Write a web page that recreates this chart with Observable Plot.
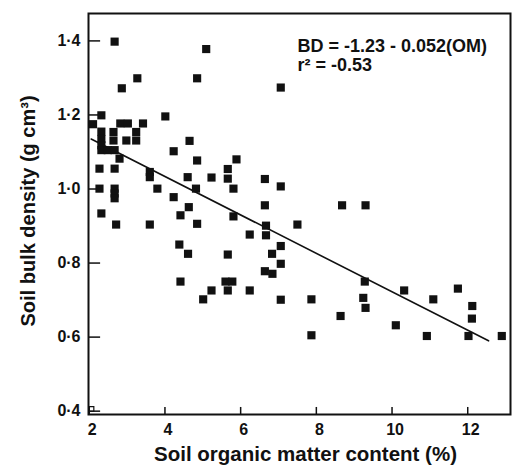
<!DOCTYPE html>
<html>
<head>
<meta charset="utf-8">
<script src="https://cdn.jsdelivr.net/npm/d3@7"></script>
<script src="https://cdn.jsdelivr.net/npm/@observablehq/plot@0.6"></script>
<style>
  html, body { margin: 0; padding: 0; background: #fff; }
  svg { display: block; }
</style>
</head>
<body>
<div id="chart"></div>
<script>
// Soil organic matter content (%)
const om = [
  2.67, 3.27, 2.86, 2.32, 2.10, 2.82, 3.02, 3.42, 2.64, 3.24,
  2.64, 2.98, 3.24, 2.32, 2.32, 2.32, 2.32, 2.49, 2.67, 2.80,
  3.60, 3.60, 2.27, 2.67, 2.27, 2.67, 2.67, 2.67, 2.32, 2.71,
  3.60, 3.80,
  5.09, 4.85, 7.06, 4.01, 4.65, 4.23, 5.89, 4.85, 4.60, 5.23,
  5.66, 5.66, 6.64, 7.06, 4.82, 5.81, 4.23, 6.64, 8.68, 9.30,
  4.63, 4.41, 5.81, 4.85, 6.67, 7.50, 6.24, 6.67, 4.38, 7.06,
  4.61, 5.66, 6.83, 7.06, 6.64, 6.84, 4.41, 5.60, 5.78, 9.28,
  5.23, 5.66, 6.24, 10.32, 11.74, 5.01, 7.06, 7.87, 9.24, 11.09,
  12.12, 9.30, 8.64, 12.11, 10.10, 7.87, 10.92, 12.02, 12.90
];
// Soil bulk density (g cm-3)
const bd = [
  1.398, 1.299, 1.272, 1.199, 1.175, 1.177, 1.177, 1.177, 1.154, 1.154,
  1.131, 1.131, 1.131, 1.155, 1.135, 1.118, 1.105, 1.105, 1.105, 1.082,
  1.046, 1.032, 1.055, 1.055, 1.001, 1.001, 0.988, 0.975, 0.934, 0.904,
  0.904, 1.001,
  1.378, 1.299, 1.274, 1.196, 1.130, 1.102, 1.080, 1.077, 1.032, 1.031,
  1.054, 1.028, 1.027, 1.007, 1.001, 1.001, 0.978, 0.956, 0.956, 0.956,
  0.951, 0.929, 0.926, 0.906, 0.901, 0.904, 0.877, 0.875, 0.850, 0.846,
  0.825, 0.823, 0.825, 0.798, 0.778, 0.771, 0.750, 0.750, 0.750, 0.750,
  0.726, 0.726, 0.726, 0.726, 0.731, 0.702, 0.701, 0.702, 0.706, 0.702,
  0.684, 0.679, 0.657, 0.650, 0.632, 0.605, 0.603, 0.603, 0.603
];
// Regression line end points
const fitOM = [2.05, 12.55];
const fitBD = [1.135, 0.59];

const xTicks = [2, 4, 6, 8, 10, 12];
const yTicks = [0.4, 0.6, 0.8, 1.0, 1.2, 1.4];
const xDomain = [1.98, 13.13];
const yDomain = [0.391, 1.474];

const equationLine1 = "BD = -1.23 - 0.052(OM)";
const equationLine2 = "r² = -0.53";
const xTitle = "Soil organic matter content (%)";
const yTitle = "Soil bulk density (g cm³)";

const points = om.map((x, i) => ({x, y: bd[i]}));
const fit = fitOM.map((x, i) => ({x, y: fitBD[i]}));
const fmt = d => d.toFixed(1).replace(".", "·");
const font = "'Liberation Sans', Arial, Helvetica, sans-serif";

const chart = Plot.plot({
  width: 515,
  height: 468,
  marginLeft: 88,
  marginRight: 5,
  marginTop: 13,
  marginBottom: 54,
  style: {fontFamily: font, fontWeight: "bold", color: "#111", background: "#fff"},
  x: {domain: xDomain, ticks: xTicks},
  y: {domain: yDomain, ticks: yTicks},
  marks: [
    // inward tick marks
    Plot.ruleX(xTicks, {x: d => d, y1: yDomain[0], y2: yDomain[0] + 0.019, stroke: "#111", strokeWidth: 1.5}),
    Plot.ruleY(yTicks, {y: d => d, x1: xDomain[0], x2: xDomain[0] + 0.32, stroke: "#111", strokeWidth: 1.5}),
    Plot.axisX(xTicks, {tickSize: 0, tickPadding: 9, tickFormat: d => String(d), fontSize: 16, fontWeight: "bold", label: null, dx: 3}),
    Plot.axisY(yTicks, {tickSize: 0, tickPadding: 8, tickFormat: fmt, fontSize: 16, fontWeight: "bold", label: null}),
    Plot.frame({stroke: "#111", strokeWidth: 2}),
    Plot.line(fit, {x: "x", y: "y", stroke: "#111", strokeWidth: 1.6}),
    Plot.dot(points, {x: "x", y: "y", symbol: "square", r: 4.6, fill: "#111", stroke: "none"}),
    Plot.dot([{x: xTicks[0], y: yTicks[0]}], {x: d => d.x + 0.06, y: d => d.y + 0.006, symbol: "square", r: 2.6, fill: "none", stroke: "#111", strokeWidth: 1.2}),
    Plot.text([equationLine1], {frameAnchor: "top-left", text: d => d, textAnchor: "start", lineAnchor: "bottom", dx: 209, dy: 38, fontSize: 18, fontWeight: "bold", fill: "#111"}),
    Plot.text([equationLine2], {frameAnchor: "top-left", text: d => d, textAnchor: "start", lineAnchor: "bottom", dx: 209, dy: 57, fontSize: 18, fontWeight: "bold", fill: "#111"}),
    Plot.text([xTitle], {frameAnchor: "bottom", text: d => d, dx: 6, dy: 46, fontSize: 20.5, fontWeight: "bold", fill: "#111"}),
    Plot.text([yTitle], {frameAnchor: "left", text: d => d, textAnchor: "middle", dx: -60, dy: -3, rotate: -90, fontSize: 20, fontWeight: "bold", fill: "#111"})
  ]
});
document.getElementById("chart").appendChild(chart);
</script>
</body>
</html>
